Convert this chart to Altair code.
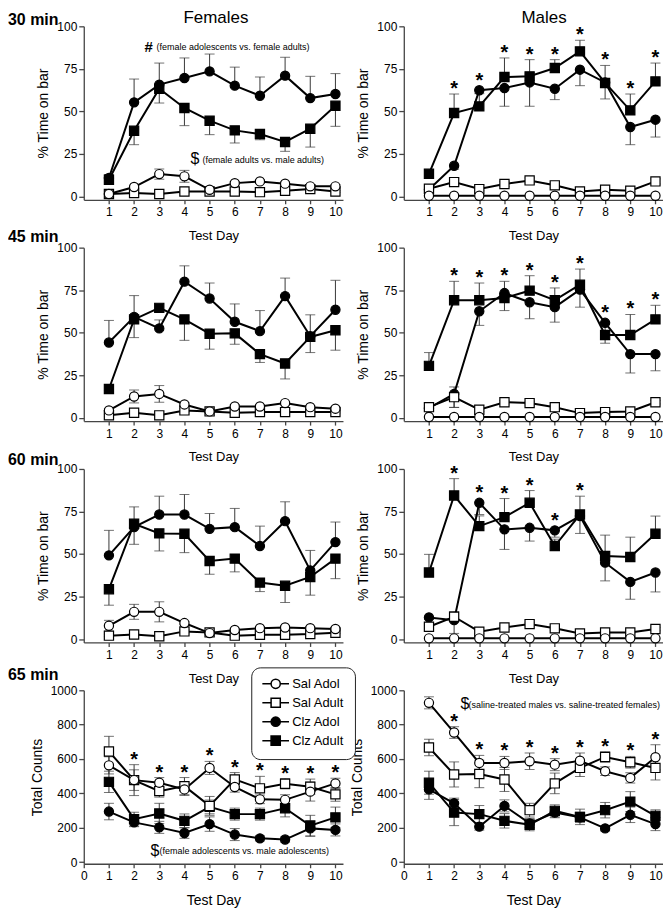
import altair as alt
import pandas as pd

FONT = "Liberation Sans"
DAYS = [1, 2, 3, 4, 5, 6, 7, 8, 9, 10]
SERIES = ["Sal Adol", "Sal Adult", "Clz Adol", "Clz Adult"]

# ---------------- Females 30 min (% time on bar) ----------------
F30_SAL_ADOL = [1.4, 5.5, 13.1, 11.8, 3.9, 7.8, 8.8, 7.5, 5.9, 5.9]
F30_SAL_ADOL_SEM = [0.5, 1.0, 3.0, 3.5, 1.0, 1.0, 1.0, 1.0, 1.0, 1.0]
F30_SAL_ADULT = [1.4, 2.0, 1.4, 2.9, 2.9, 2.9, 2.5, 3.3, 4.3, 2.9]
F30_SAL_ADULT_SEM = [0.5, 0.5, 0.5, 1.0, 0.5, 0.5, 0.5, 0.5, 1.0, 0.5]
F30_CLZ_ADOL = [10.8, 55.3, 65.7, 69.6, 73.5, 65.1, 59.2, 71.0, 57.8, 60.2]
F30_CLZ_ADOL_SEM = [2.0, 13.7, 12.7, 11.8, 10.2, 10.9, 11.0, 10.8, 12.8, 12.0]
F30_CLZ_ADULT = [9.8, 38.6, 63.3, 52.0, 44.5, 38.8, 36.7, 32.0, 39.8, 53.3]
F30_CLZ_ADULT_SEM = [2.0, 8.2, 8.4, 10.4, 8.2, 7.4, 3.4, 5.5, 10.8, 12.1]
F30_STARS = []

# ---------------- Males 30 min ----------------
M30_SAL_ADOL = [0.4, 0.4, 0.4, 0.4, 0.4, 0.4, 0.4, 0.4, 0.4, 0.4]
M30_SAL_ADOL_SEM = [0, 0, 0, 0, 0, 0, 0, 0, 0, 0]
M30_SAL_ADULT = [4.5, 8.4, 4.3, 7.3, 9.4, 6.5, 2.9, 3.9, 3.3, 8.8]
M30_SAL_ADULT_SEM = [1.0, 2.0, 1.0, 1.5, 1.5, 1.5, 0.5, 0.5, 0.5, 1.5]
M30_CLZ_ADOL = [4.0, 18.0, 62.4, 63.7, 67.0, 63.3, 74.5, 67.0, 40.8, 45.1]
M30_CLZ_ADOL_SEM = [1.0, 2.0, 2.0, 10.7, 14.0, 6.4, 9.4, 9.7, 10.4, 10.2]
M30_CLZ_ADULT = [13.3, 49.0, 52.9, 70.2, 70.6, 75.5, 85.3, 66.7, 50.6, 67.6]
M30_CLZ_ADULT_SEM = [2.0, 11.2, 10.0, 11.2, 9.8, 4.9, 6.5, 10.3, 9.6, 10.8]
M30_STARS = [2, 3, 4, 5, 6, 7, 8, 9, 10]

# ---------------- Females 45 min ----------------
F45_SAL_ADOL = [4.3, 12.5, 14.0, 7.8, 3.7, 6.6, 6.6, 8.6, 6.2, 5.3]
F45_SAL_ADOL_SEM = [1.0, 3.8, 4.9, 1.0, 0.5, 1.0, 1.0, 1.0, 1.0, 1.0]
F45_SAL_ADULT = [1.4, 2.9, 1.4, 4.3, 3.7, 2.9, 3.3, 3.3, 3.3, 3.3]
F45_SAL_ADULT_SEM = [0.5, 0.5, 0.5, 1.0, 0.5, 0.5, 0.5, 0.5, 0.5, 0.5]
F45_CLZ_ADOL = [44.2, 59.3, 52.5, 80.0, 70.1, 56.4, 50.9, 71.5, 47.9, 63.5]
F45_CLZ_ADOL_SEM = [13.0, 12.5, 5.0, 9.3, 9.1, 10.5, 12.1, 10.6, 12.6, 17.3]
F45_CLZ_ADULT = [16.9, 57.8, 64.6, 57.8, 49.4, 49.6, 37.4, 31.9, 47.5, 51.4]
F45_CLZ_ADULT_SEM = [1.0, 10.7, 2.0, 12.3, 9.1, 6.4, 4.9, 9.1, 9.2, 11.7]
F45_STARS = []

# ---------------- Males 45 min ----------------
M45_SAL_ADOL = [0.4, 0.4, 0.4, 0.4, 0.4, 0.4, 0.4, 0.4, 0.4, 0.4]
M45_SAL_ADOL_SEM = [0, 0, 0, 0, 0, 0, 0, 0, 0, 0]
M45_SAL_ADULT = [6.2, 12.1, 4.7, 9.1, 8.6, 6.2, 2.7, 3.3, 3.7, 9.1]
M45_SAL_ADULT_SEM = [1.0, 6.0, 1.0, 1.0, 1.0, 1.0, 0.5, 0.5, 0.5, 1.0]
M45_CLZ_ADOL = [5.6, 14.0, 62.6, 73.3, 67.9, 65.0, 75.3, 55.8, 37.4, 37.4]
M45_CLZ_ADOL_SEM = [1.0, 8.0, 8.3, 10.3, 9.7, 8.8, 10.3, 12.0, 11.1, 9.8]
M45_CLZ_ADULT = [30.5, 69.1, 69.1, 70.4, 74.7, 69.1, 78.2, 48.6, 48.6, 57.8]
M45_CLZ_ADULT_SEM = [7.8, 11.1, 10.1, 9.8, 8.8, 7.2, 9.2, 2.0, 12.1, 8.3]
M45_STARS = [2, 3, 4, 5, 6, 7, 8, 9, 10]

# ---------------- Females 60 min ----------------
F60_SAL_ADOL = [7.8, 16.0, 16.0, 9.4, 3.5, 5.3, 6.4, 6.8, 6.4, 5.9]
F60_SAL_ADOL_SEM = [3.2, 4.4, 5.9, 1.0, 0.5, 1.0, 1.0, 1.0, 1.0, 1.0]
F60_SAL_ADULT = [2.0, 2.7, 1.6, 4.5, 3.9, 2.0, 2.5, 2.5, 2.9, 3.7]
F60_SAL_ADULT_SEM = [0.5, 0.5, 0.5, 1.0, 0.5, 0.5, 0.5, 0.5, 0.5, 0.5]
F60_CLZ_ADOL = [49.2, 65.8, 73.2, 73.2, 64.8, 65.8, 54.7, 69.3, 40.4, 57.0]
F60_CLZ_ADOL_SEM = [14.7, 11.9, 10.8, 11.8, 9.0, 11.0, 11.7, 11.4, 11.7, 11.8]
F60_CLZ_ADULT = [29.3, 67.8, 62.1, 61.9, 45.9, 47.3, 33.2, 31.3, 36.5, 47.3]
F60_CLZ_ADULT_SEM = [9.4, 12.1, 10.3, 11.1, 7.8, 7.8, 5.3, 9.8, 10.7, 11.8]
F60_STARS = []

# ---------------- Males 60 min ----------------
M60_SAL_ADOL = [0.4, 0.4, 0.4, 0.4, 0.4, 0.4, 0.4, 0.4, 0.4, 0.4]
M60_SAL_ADOL_SEM = [0, 0, 0, 0, 0, 0, 0, 0, 0, 0]
M60_SAL_ADULT = [7.2, 13.1, 4.3, 6.8, 8.8, 6.3, 3.3, 3.9, 3.9, 5.9]
M60_SAL_ADULT_SEM = [1.0, 3.0, 1.0, 1.0, 1.0, 1.0, 0.5, 0.5, 0.5, 1.0]
M60_CLZ_ADOL = [12.7, 11.1, 80.1, 64.5, 65.4, 63.9, 72.3, 44.9, 33.6, 39.1]
M60_CLZ_ADOL_SEM = [1.0, 7.8, 6.9, 11.8, 7.8, 4.0, 10.2, 10.7, 10.2, 11.4]
M60_CLZ_ADULT = [39.1, 84.4, 66.4, 71.7, 80.1, 54.7, 73.2, 48.8, 48.2, 61.9]
M60_CLZ_ADULT_SEM = [10.7, 9.9, 6.0, 10.9, 7.2, 4.0, 10.8, 12.3, 11.7, 10.4]
M60_STARS = [2, 3, 4, 5, 6, 7]

# ---------------- Females 65 min (total counts) ----------------
F65_SAL_ADOL = [563, 477, 462, 423, 548, 437, 365, 362, 410, 458]
F65_SAL_ADOL_SEM = [50, 60, 30, 35, 38, 30, 25, 30, 55, 30]
F65_SAL_ADULT = [644, 477, 413, 442, 327, 481, 429, 456, 438, 394]
F65_SAL_ADULT_SEM = [88, 90, 35, 50, 55, 40, 70, 30, 45, 40]
F65_CLZ_ADOL = [294, 231, 202, 169, 221, 160, 138, 131, 196, 187]
F65_CLZ_ADOL_SEM = [48, 25, 35, 31, 42, 35, 15, 15, 46, 35]
F65_CLZ_ADULT = [467, 250, 283, 240, 321, 279, 279, 313, 212, 260]
F65_CLZ_ADULT_SEM = [62, 40, 59, 40, 40, 35, 35, 50, 60, 60]
F65_STARS = [2, 3, 4, 5, 6, 7, 8, 9, 10]

# ---------------- Males 65 min ----------------
M65_SAL_ADOL = [927, 754, 577, 577, 587, 567, 590, 529, 490, 610]
M65_SAL_ADOL_SEM = [35, 34, 44, 38, 48, 35, 45, 25, 30, 73]
M65_SAL_ADULT = [667, 510, 513, 481, 302, 458, 548, 612, 581, 548]
M65_SAL_ADULT_SEM = [48, 73, 80, 70, 40, 60, 50, 30, 34, 70]
M65_CLZ_ADOL = [423, 342, 206, 327, 225, 288, 260, 196, 275, 221]
M65_CLZ_ADOL_SEM = [58, 30, 20, 35, 25, 30, 30, 15, 45, 38]
M65_CLZ_ADULT = [462, 288, 279, 240, 217, 298, 263, 302, 352, 269]
M65_CLZ_ADULT_SEM = [67, 76, 50, 42, 35, 35, 45, 45, 58, 35]
M65_STARS = [2, 3, 4, 5, 6, 7, 8, 9, 10]

PCT_TICKS = [0, 25, 50, 75, 100]
CNT_TICKS = [0, 200, 400, 600, 800, 1000]
DAY_TICKS = [1, 2, 3, 4, 5, 6, 7, 8, 9, 10]
DAY_TICKS0 = [0, 1, 2, 3, 4, 5, 6, 7, 8, 9, 10]

# ---------------- styling ----------------
SHAPE = {"Sal Adol": "circle", "Sal Adult": "square", "Clz Adol": "circle", "Clz Adult": "square"}
FILL = {"Sal Adol": "white", "Sal Adult": "white", "Clz Adol": "black", "Clz Adult": "black"}
DRAW_ORDER = ["Clz Adult", "Clz Adol", "Sal Adult", "Sal Adol"]
FEM_DIR = {"Sal Adol": "both", "Sal Adult": "both", "Clz Adol": "up", "Clz Adult": "down"}
MAL_DIR = {"Sal Adol": "both", "Sal Adult": "both", "Clz Adol": "down", "Clz Adult": "up"}
ALL_DIR = {"Sal Adol": "both", "Sal Adult": "both", "Clz Adol": "both", "Clz Adult": "both"}

LEG_CIRCLE = "M-2.9,0L-1,0M1,0L2.9,0M-1,0A1,1,0,1,1,1,0A1,1,0,1,1,-1,0Z"
LEG_SQUARE = "M-2.9,0L-1,0M1,0L2.9,0M-1,-1L1,-1L1,1L-1,1Z"

EC = "#383838"
AX = "#454545"
W, H = 260, 174
ROW_GAP = 48
COL_GAP = 61
XS = alt.Scale(domain=[0, 10.3], nice=False, zero=False)
ONE = pd.DataFrame({"k": [0]})


def text_layer(txt, x, y, size, weight="normal", align="left"):
    return alt.Chart(ONE).mark_text(
        text=txt, font=FONT, fontSize=size, fontWeight=weight, align=align,
        baseline="middle", color="black"
    ).encode(x=alt.value(x), y=alt.value(y))


def panel(data, dirs, stars, ydom, yvals, ytitle, xvals, xtsize, row_label, row_dy,
          notes, legend=False):
    ys = alt.Scale(domain=ydom, nice=False, zero=False)
    recs, caps = [], []
    for s in SERIES:
        means, sems = data[s]
        dr = dirs[s]
        for d, m, e in zip(DAYS, means, sems):
            lo = m - e if dr in ("down", "both") else m
            hi = m + e if dr in ("up", "both") else m
            recs.append(dict(series=s, day=d, mean=m, lo=lo, hi=hi))
            if e > 0:
                if dr in ("up", "both"):
                    caps.append(dict(day=d, cap=hi))
                if dr in ("down", "both"):
                    caps.append(dict(day=d, cap=lo))
    df = pd.DataFrame(recs)
    cap_df = pd.DataFrame(caps)
    pad = 0.026 * (ydom[1] - ydom[0])
    star_rows = []
    for d in stars:
        sub = df[df.day == d]
        star_rows.append(dict(day=d, top=max(sub.hi.max(), (sub["mean"] + pad).max())))

    x_axis = alt.Axis(values=xvals, title="Test Day", titleFontSize=xtsize, format="d",
                      labelFlush=False)
    y_axis = alt.Axis(values=yvals, title=ytitle, format="d", labelFlush=False)

    def X(f):
        return alt.X(f"{f}:Q", scale=XS, axis=x_axis)

    def Y(f):
        return alt.Y(f"{f}:Q", scale=ys, axis=y_axis)

    layers = []
    err = df[df.hi > df.lo]
    layers.append(alt.Chart(err).mark_rule(color=EC, strokeWidth=1).encode(
        x=X("day"), y=Y("lo"), y2=alt.Y2("hi")))
    if len(cap_df):
        layers.append(alt.Chart(cap_df).mark_tick(orient="horizontal", size=10, thickness=1,
                                                  color=EC).encode(x=X("day"), y=Y("cap")))
    layers.append(alt.Chart(df).mark_line(color="black", strokeWidth=2).encode(
        x=X("day"), y=Y("mean"), detail="series:N"))
    for s in DRAW_ORDER:
        layers.append(alt.Chart(df[df.series == s]).mark_point(
            shape=SHAPE[s], filled=True, fill=FILL[s], stroke="black", strokeWidth=1.2,
            size=85, opacity=1).encode(x=X("day"), y=Y("mean")))
    if star_rows:
        layers.append(alt.Chart(pd.DataFrame(star_rows)).mark_text(
            text="*", font=FONT, fontSize=20, fontWeight="bold", baseline="alphabetic",
            dy=1, color="black").encode(x=X("day"), y=Y("top")))
    for (txt, x, y, size, weight) in notes:
        layers.append(text_layer(txt, x, y, size, weight))
    if row_label:
        layers.append(text_layer(row_label, -76, row_dy, 16, "bold"))
    if legend:
        # legend coordinates are relative to the whole grid (top-left cell origin)
        leg = alt.Legend(
            title=None, orient="none", legendX=168, legendY=3 * (H + ROW_GAP) - 23,
            labelFont=FONT, labelFontSize=13, labelColor="black", symbolSize=85,
            symbolStrokeColor="black", symbolStrokeWidth=1.5, symbolOpacity=1,
            padding=10, cornerRadius=9, strokeColor="#222222",
            fillColor="white", symbolOffset=8, labelOffset=10, rowPadding=2)
        layers.append(alt.Chart(pd.DataFrame({"group": SERIES})).transform_filter("false")
                      .mark_point(filled=False, color="black", strokeWidth=1.5, opacity=1)
                      .encode(
            shape=alt.Shape("group:N", scale=alt.Scale(
                domain=SERIES, range=[LEG_CIRCLE, LEG_SQUARE, LEG_CIRCLE, LEG_SQUARE]),
                legend=leg),
            fill=alt.Fill("group:N", scale=alt.Scale(
                domain=SERIES, range=["white", "white", "black", "black"]), legend=leg),
            stroke=alt.Stroke("group:N", scale=alt.Scale(
                domain=SERIES, range=["black", "black", "black", "black"]), legend=leg)))
    return alt.layer(*layers).properties(width=W, height=H)


def pack(sa, sae, sd, sde, ca, cae, cd, cde):
    return {"Sal Adol": (sa, sae), "Sal Adult": (sd, sde),
            "Clz Adol": (ca, cae), "Clz Adult": (cd, cde)}


PCT = "% Time on bar"
PD = [-2, 100]
CD = [-10, 1000]

p1 = panel(pack(F30_SAL_ADOL, F30_SAL_ADOL_SEM, F30_SAL_ADULT, F30_SAL_ADULT_SEM,
                F30_CLZ_ADOL, F30_CLZ_ADOL_SEM, F30_CLZ_ADULT, F30_CLZ_ADULT_SEM),
           FEM_DIR, F30_STARS, PD, PCT_TICKS, PCT, DAY_TICKS, 13, "30 min", -6,
           [("Females", 100, -8, 17, "normal"),
            ("#", 61, 21, 15, "bold"), ("(female adolescents vs. female adults)", 73, 21, 9, "normal"),
            ("$", 107, 133, 16, "normal"), ("(female adults vs. male adults)", 119, 134, 9, "normal")])
p2 = panel(pack(M30_SAL_ADOL, M30_SAL_ADOL_SEM, M30_SAL_ADULT, M30_SAL_ADULT_SEM,
                M30_CLZ_ADOL, M30_CLZ_ADOL_SEM, M30_CLZ_ADULT, M30_CLZ_ADULT_SEM),
           MAL_DIR, M30_STARS, PD, PCT_TICKS, PCT, DAY_TICKS, 13, "", -8,
           [("Males", 118, -8, 17, "normal")])
p3 = panel(pack(F45_SAL_ADOL, F45_SAL_ADOL_SEM, F45_SAL_ADULT, F45_SAL_ADULT_SEM,
                F45_CLZ_ADOL, F45_CLZ_ADOL_SEM, F45_CLZ_ADULT, F45_CLZ_ADULT_SEM),
           FEM_DIR, F45_STARS, PD, PCT_TICKS, PCT, DAY_TICKS, 13, "45 min", -11, [])
p4 = panel(pack(M45_SAL_ADOL, M45_SAL_ADOL_SEM, M45_SAL_ADULT, M45_SAL_ADULT_SEM,
                M45_CLZ_ADOL, M45_CLZ_ADOL_SEM, M45_CLZ_ADULT, M45_CLZ_ADULT_SEM),
           MAL_DIR, M45_STARS, PD, PCT_TICKS, PCT, DAY_TICKS, 13, "", -8, [])
p5 = panel(pack(F60_SAL_ADOL, F60_SAL_ADOL_SEM, F60_SAL_ADULT, F60_SAL_ADULT_SEM,
                F60_CLZ_ADOL, F60_CLZ_ADOL_SEM, F60_CLZ_ADULT, F60_CLZ_ADULT_SEM),
           FEM_DIR, F60_STARS, PD, PCT_TICKS, PCT, DAY_TICKS, 13, "60 min", -9, [])
p6 = panel(pack(M60_SAL_ADOL, M60_SAL_ADOL_SEM, M60_SAL_ADULT, M60_SAL_ADULT_SEM,
                M60_CLZ_ADOL, M60_CLZ_ADOL_SEM, M60_CLZ_ADULT, M60_CLZ_ADULT_SEM),
           MAL_DIR, M60_STARS, PD, PCT_TICKS, PCT, DAY_TICKS, 13, "", -8, [])
p7 = panel(pack(F65_SAL_ADOL, F65_SAL_ADOL_SEM, F65_SAL_ADULT, F65_SAL_ADULT_SEM,
                F65_CLZ_ADOL, F65_CLZ_ADOL_SEM, F65_CLZ_ADULT, F65_CLZ_ADULT_SEM),
           ALL_DIR, F65_STARS, CD, CNT_TICKS, "Total Counts", DAY_TICKS0, 14, "65 min", -15,
           [("$", 67, 161, 16, "normal"),
            ("(female adolescents vs. male adolescents)", 76, 161, 9, "normal")],
           legend=True)
p8 = panel(pack(M65_SAL_ADOL, M65_SAL_ADOL_SEM, M65_SAL_ADULT, M65_SAL_ADULT_SEM,
                M65_CLZ_ADOL, M65_CLZ_ADOL_SEM, M65_CLZ_ADULT, M65_CLZ_ADULT_SEM),
           ALL_DIR, M65_STARS, CD, CNT_TICKS, "Total Counts", DAY_TICKS0, 14, "", -8,
           [("$", 57, 14, 16, "normal"),
            ("(saline-treated males vs. saline-treated females)", 65, 15, 9, "normal")])

chart = alt.concat(p1, p2, p3, p4, p5, p6, p7, p8, columns=2,
                   spacing={"row": ROW_GAP, "column": COL_GAP}, bounds="flush").properties(
    padding=0
).configure_view(stroke=None).configure_axis(
    domainColor=AX, tickColor=AX, domainWidth=1.3, tickWidth=1.3, grid=False,
    labelFont=FONT, labelFontSize=12, labelColor="black",
    titleFont=FONT, titleFontSize=14, titleFontWeight="normal", titleColor="black"
).configure_axisX(tickSize=4, labelPadding=3, titlePadding=12
).configure_axisY(tickSize=5, labelPadding=2, titlePadding=6)

chart.save("out.html", embed_options={"renderer": "svg", "actions": False})
